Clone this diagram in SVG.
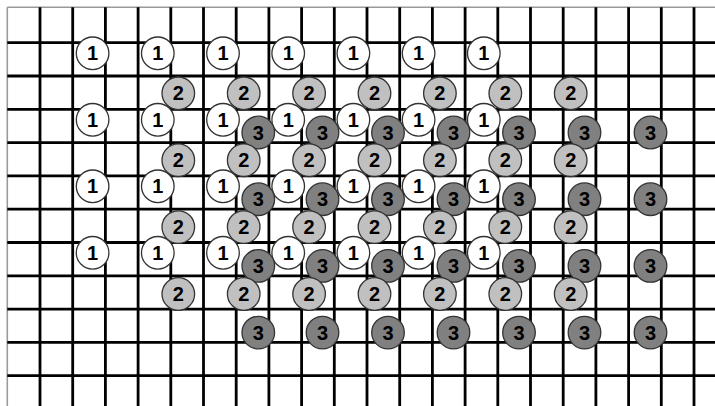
<svg xmlns="http://www.w3.org/2000/svg" xmlns:xlink="http://www.w3.org/1999/xlink" width="715" height="406" viewBox="0 0 715 406">
<style>
.grid line{stroke:#000;stroke-width:2.8}
.grid line.border{stroke:#9a9a9a;stroke-width:1.6}
</style>
<rect width="715" height="406" fill="#fff"/>
<g id="grid" class="grid">
<line class="border" x1="7.3" y1="7.3" x2="715" y2="7.3"/>
<line class="border" x1="7.3" y1="7.3" x2="7.3" y2="406"/>
<line x1="40" y1="7.3" x2="40" y2="406"/>
<line x1="72.7" y1="7.3" x2="72.7" y2="406"/>
<line x1="105.4" y1="7.3" x2="105.4" y2="406"/>
<line x1="138.1" y1="7.3" x2="138.1" y2="406"/>
<line x1="170.8" y1="7.3" x2="170.8" y2="406"/>
<line x1="203.5" y1="7.3" x2="203.5" y2="406"/>
<line x1="236.2" y1="7.3" x2="236.2" y2="406"/>
<line x1="268.9" y1="7.3" x2="268.9" y2="406"/>
<line x1="301.6" y1="7.3" x2="301.6" y2="406"/>
<line x1="334.3" y1="7.3" x2="334.3" y2="406"/>
<line x1="367" y1="7.3" x2="367" y2="406"/>
<line x1="399.7" y1="7.3" x2="399.7" y2="406"/>
<line x1="432.4" y1="7.3" x2="432.4" y2="406"/>
<line x1="465.1" y1="7.3" x2="465.1" y2="406"/>
<line x1="497.8" y1="7.3" x2="497.8" y2="406"/>
<line x1="530.5" y1="7.3" x2="530.5" y2="406"/>
<line x1="563.2" y1="7.3" x2="563.2" y2="406"/>
<line x1="595.9" y1="7.3" x2="595.9" y2="406"/>
<line x1="628.6" y1="7.3" x2="628.6" y2="406"/>
<line x1="661.3" y1="7.3" x2="661.3" y2="406"/>
<line x1="694" y1="7.3" x2="694" y2="406"/>
<line x1="7.3" y1="42.7" x2="715" y2="42.7"/>
<line x1="7.3" y1="76" x2="715" y2="76"/>
<line x1="7.3" y1="109.3" x2="715" y2="109.3"/>
<line x1="7.3" y1="142.6" x2="715" y2="142.6"/>
<line x1="7.3" y1="175.9" x2="715" y2="175.9"/>
<line x1="7.3" y1="209.2" x2="715" y2="209.2"/>
<line x1="7.3" y1="242.5" x2="715" y2="242.5"/>
<line x1="7.3" y1="275.8" x2="715" y2="275.8"/>
<line x1="7.3" y1="309.1" x2="715" y2="309.1"/>
<line x1="7.3" y1="342.4" x2="715" y2="342.4"/>
<line x1="7.3" y1="375.7" x2="715" y2="375.7"/>
</g>
<defs>
<g id="c1"><circle r="16.3" fill="#ffffff" stroke="#333" stroke-width="1.3"/><text y="7" font-family="Liberation Sans, Arial, sans-serif" font-weight="bold" font-size="20" text-anchor="middle" fill="#000">1</text></g>
<g id="c2"><circle r="16.3" fill="#c0c0c0" stroke="#333" stroke-width="1.3"/><text y="7" font-family="Liberation Sans, Arial, sans-serif" font-weight="bold" font-size="20" text-anchor="middle" fill="#000">2</text></g>
<g id="c3"><circle r="16.3" fill="#808080" stroke="#333" stroke-width="1.3"/><text y="7" font-family="Liberation Sans, Arial, sans-serif" font-weight="bold" font-size="20" text-anchor="middle" fill="#000">3</text></g>
</defs>
<g id="ones">
<use href="#c1" x="92.6" y="53.3"/><use href="#c1" x="157.8" y="53.3"/><use href="#c1" x="223" y="53.3"/><use href="#c1" x="288.2" y="53.3"/><use href="#c1" x="353.4" y="53.3"/><use href="#c1" x="418.6" y="53.3"/><use href="#c1" x="483.8" y="53.3"/>
<use href="#c1" x="92.6" y="119.8"/><use href="#c1" x="157.8" y="119.8"/><use href="#c1" x="223" y="119.8"/><use href="#c1" x="288.2" y="119.8"/><use href="#c1" x="353.4" y="119.8"/><use href="#c1" x="418.6" y="119.8"/><use href="#c1" x="483.8" y="119.8"/>
<use href="#c1" x="92.6" y="186.3"/><use href="#c1" x="157.8" y="186.3"/><use href="#c1" x="223" y="186.3"/><use href="#c1" x="288.2" y="186.3"/><use href="#c1" x="353.4" y="186.3"/><use href="#c1" x="418.6" y="186.3"/><use href="#c1" x="483.8" y="186.3"/>
<use href="#c1" x="92.6" y="252.8"/><use href="#c1" x="157.8" y="252.8"/><use href="#c1" x="223" y="252.8"/><use href="#c1" x="288.2" y="252.8"/><use href="#c1" x="353.4" y="252.8"/><use href="#c1" x="418.6" y="252.8"/><use href="#c1" x="483.8" y="252.8"/>
</g>
<g id="threes">
<use href="#c3" x="258.3" y="132.5"/><use href="#c3" x="322.5" y="132.5"/><use href="#c3" x="388" y="132.5"/><use href="#c3" x="453.5" y="132.5"/><use href="#c3" x="519" y="132.5"/><use href="#c3" x="584.5" y="132.5"/><use href="#c3" x="650.5" y="132.5"/>
<use href="#c3" x="258.3" y="199.2"/><use href="#c3" x="322.5" y="199.2"/><use href="#c3" x="388" y="199.2"/><use href="#c3" x="453.5" y="199.2"/><use href="#c3" x="519" y="199.2"/><use href="#c3" x="584.5" y="199.2"/><use href="#c3" x="650.5" y="199.2"/>
<use href="#c3" x="258.3" y="265.9"/><use href="#c3" x="322.5" y="265.9"/><use href="#c3" x="388" y="265.9"/><use href="#c3" x="453.5" y="265.9"/><use href="#c3" x="519" y="265.9"/><use href="#c3" x="584.5" y="265.9"/><use href="#c3" x="650.5" y="265.9"/>
<use href="#c3" x="258.3" y="332.6"/><use href="#c3" x="322.5" y="332.6"/><use href="#c3" x="388" y="332.6"/><use href="#c3" x="453.5" y="332.6"/><use href="#c3" x="519" y="332.6"/><use href="#c3" x="584.5" y="332.6"/><use href="#c3" x="650.5" y="332.6"/>
</g>
<g id="twos">
<use href="#c2" x="178.3" y="93.3"/><use href="#c2" x="243.7" y="93.3"/><use href="#c2" x="309.1" y="93.3"/><use href="#c2" x="374.5" y="93.3"/><use href="#c2" x="439.9" y="93.3"/><use href="#c2" x="505.3" y="93.3"/><use href="#c2" x="570.7" y="93.3"/>
<use href="#c2" x="178.3" y="160.2"/><use href="#c2" x="243.7" y="160.2"/><use href="#c2" x="309.1" y="160.2"/><use href="#c2" x="374.5" y="160.2"/><use href="#c2" x="439.9" y="160.2"/><use href="#c2" x="505.3" y="160.2"/><use href="#c2" x="570.7" y="160.2"/>
<use href="#c2" x="178.3" y="227.1"/><use href="#c2" x="243.7" y="227.1"/><use href="#c2" x="309.1" y="227.1"/><use href="#c2" x="374.5" y="227.1"/><use href="#c2" x="439.9" y="227.1"/><use href="#c2" x="505.3" y="227.1"/><use href="#c2" x="570.7" y="227.1"/>
<use href="#c2" x="178.3" y="294"/><use href="#c2" x="243.7" y="294"/><use href="#c2" x="309.1" y="294"/><use href="#c2" x="374.5" y="294"/><use href="#c2" x="439.9" y="294"/><use href="#c2" x="505.3" y="294"/><use href="#c2" x="570.7" y="294"/>
</g>
</svg>
